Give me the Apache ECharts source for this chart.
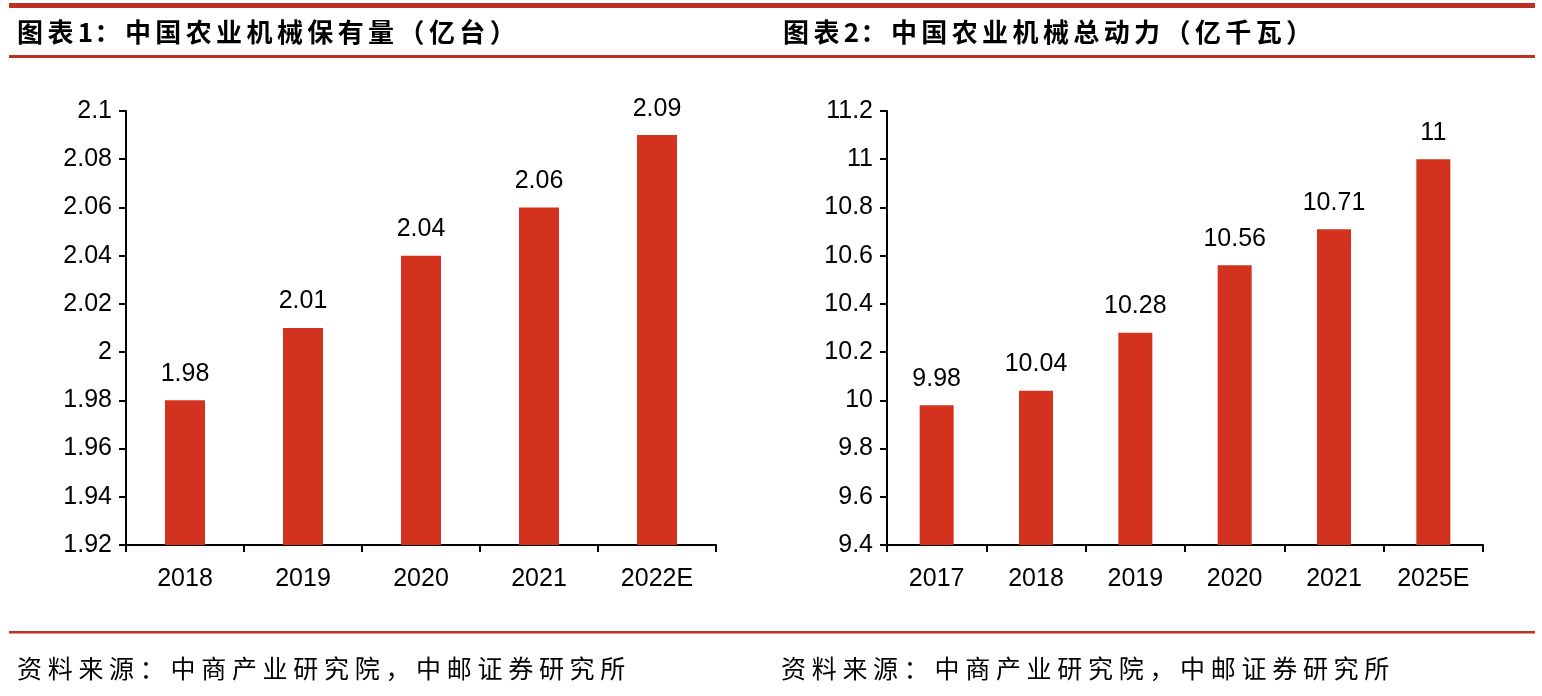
<!DOCTYPE html>
<html><head><meta charset="utf-8">
<script src="https://cdn.jsdelivr.net/npm/echarts@6/dist/echarts.min.js"></script>
<style>html,body{margin:0;padding:0;background:#fff}#c{width:1542px;height:696px}</style>
</head><body><div id="c"></div>
<script>
const title1 = '图表1：中国农业机械保有量（亿台）';
const title2 = '图表2：中国农业机械总动力（亿千瓦）';
const source1 = '资料来源：中商产业研究院，中邮证券研究所';
const source2 = '资料来源：中商产业研究院，中邮证券研究所';
const cats1 = ['2018', '2019', '2020', '2021', '2022E'];
const vals1 = [1.98, 2.01, 2.04, 2.06, 2.09];
const cats2 = ['2017', '2018', '2019', '2020', '2021', '2025E'];
const vals2 = [9.98, 10.04, 10.28, 10.56, 10.71, 11];

const RED_LINE = '#BE2E22';
const BAR = '#D3321F';
const numFont = 'Liberation Sans, Arial, sans-serif';
const cjk = '"Noto Sans CJK SC", sans-serif';

const chart = echarts.init(document.getElementById('c'), null, {renderer: 'canvas'});

function xAxis(idx, cats) {
  return {
    type: 'category', gridIndex: idx, data: cats, boundaryGap: true,
    axisLine: {lineStyle: {color: '#000', width: 2}},
    axisTick: {show: true, length: 7, lineStyle: {color: '#000', width: 2}, alignWithLabel: false},
    axisLabel: {color: '#000', fontSize: 25, fontFamily: numFont, margin: 22}
  };
}
function yAxis(idx, min, max, interval) {
  return {
    type: 'value', gridIndex: idx, min: min, max: max, interval: interval,
    splitLine: {show: false},
    axisLine: {show: true, lineStyle: {color: '#000', width: 2}},
    axisTick: {show: true, length: 7, lineStyle: {color: '#000', width: 2}},
    axisLabel: {color: '#000', fontSize: 25, fontFamily: numFont, margin: 14}
  };
}
function barSeries(idx, vals, w) {
  return {
    type: 'bar', xAxisIndex: idx, yAxisIndex: idx, data: vals, barWidth: w,
    itemStyle: {color: BAR},
    label: {show: true, position: 'top', distance: 14, color: '#000', fontSize: 25, fontFamily: numFont}
  };
}
// spaced CJK text: one text element per character, with a fixed advance
function spacedText(str, x0, y, font, adv) {
  const out = [];
  let x = x0;
  for (const ch of str) {
    const half = /[\x00-\x7f]/.test(ch);
    out.push({type: 'text', x: x, y: y, silent: true,
      style: {text: ch, font: font, fill: '#000', verticalAlign: 'middle', textVerticalAlign: 'middle'}});
    x += half ? adv * 0.55 : adv;
  }
  return out;
}

const graphics = [
  {type: 'rect', shape: {x: 9, y: 3, width: 1526, height: 5}, style: {fill: RED_LINE}},
  {type: 'rect', shape: {x: 9, y: 55, width: 1526, height: 3}, style: {fill: RED_LINE}},
  {type: 'rect', shape: {x: 9, y: 631, width: 1526, height: 2.5}, style: {fill: RED_LINE}}
].concat(
  spacedText(title1, 17, 32, 'bold 26px ' + cjk, 30.4),
  spacedText(title2, 783, 32, 'bold 26px ' + cjk, 30.4),
  spacedText(source1, 17, 668, '25px ' + cjk, 30.7),
  spacedText(source2, 781, 668, '25px ' + cjk, 30.7)
);

chart.setOption({
  animation: false,
  backgroundColor: '#fff',
  grid: [
    {left: 126, top: 111, width: 590, height: 434},
    {left: 887, top: 111, width: 596, height: 434}
  ],
  xAxis: [xAxis(0, cats1), xAxis(1, cats2)],
  yAxis: [yAxis(0, 1.92, 2.1, 0.02), yAxis(1, 9.4, 11.2, 0.2)],
  series: [barSeries(0, vals1, 40), barSeries(1, vals2, 34)],
  graphic: graphics
});
</script>
</body></html>
